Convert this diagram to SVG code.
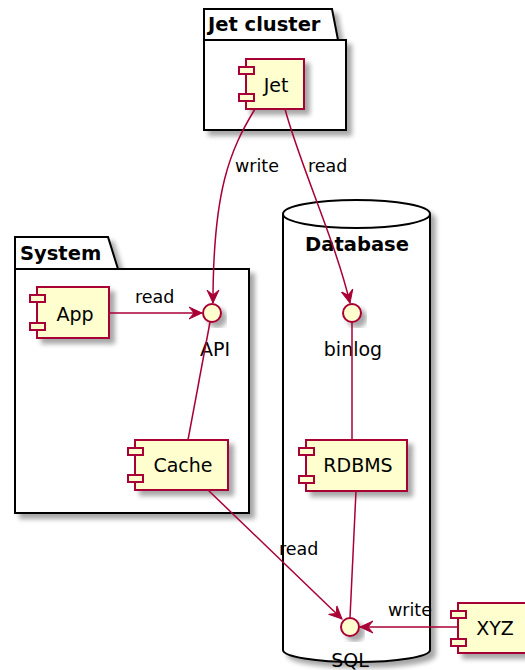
<svg xmlns="http://www.w3.org/2000/svg" width="525" height="670" viewBox="0 0 525 670">
<style>
.pkg{fill:#FFFFFF;stroke:#000000;stroke-width:2}
.comp{fill:#FEFECE;stroke:#A80036;stroke-width:2}
.ptitle{font-family:"DejaVu Sans",sans-serif;font-size:19.5px;font-weight:bold;fill:#000}
.lbl{font-family:"DejaVu Sans",sans-serif;font-size:19px;fill:#000}
.elbl{font-family:"DejaVu Sans",sans-serif;font-size:17.5px;fill:#000}
.edge{fill:none;stroke:#A80036;stroke-width:1.5}
</style>
<defs>
<filter id="sh" x="-20%" y="-20%" width="150%" height="150%">
<feGaussianBlur in="SourceAlpha" stdDeviation="2.5"/>
<feOffset dx="5" dy="5" result="b"/>
<feComponentTransfer><feFuncA type="linear" slope="0.35"/></feComponentTransfer>
<feMerge><feMergeNode/><feMergeNode in="SourceGraphic"/></feMerge>
</filter>
<marker id="arr" viewBox="0 0 14 14" refX="13" refY="7" markerWidth="14" markerHeight="14" markerUnits="userSpaceOnUse" orient="auto">
<path d="M0,1 L13,7 L0,13 L5,7 Z" fill="#A80036" stroke="#A80036" stroke-width="1"/>
</marker>
</defs>
<rect width="525" height="670" fill="#FFFFFF"/>

<g id="jet-cluster">
<path class="pkg" filter="url(#sh)" d="M204,9 L332,9 L338,40 L346,40 L346,130 L204,130 Z"/>
<line x1="204" y1="40" x2="338" y2="40" stroke="#000" stroke-width="2"/>
<text class="ptitle" x="208" y="31">Jet cluster</text>
</g>

<g id="system">
<path class="pkg" filter="url(#sh)" d="M15,237 L108,237 L118,269 L249,269 L249,513 L15,513 Z"/>
<line x1="15" y1="269" x2="118" y2="269" stroke="#000" stroke-width="2"/>
<text class="ptitle" x="20" y="260">System</text>
</g>

<g id="database">
<path class="pkg" filter="url(#sh)" d="M283,214 A73.5,14 0 0 1 430,214 L430,650 A73.5,12 0 0 1 283,650 Z"/>
<path d="M283,214 A73.5,14 0 0 0 430,214" fill="none" stroke="#000" stroke-width="2"/>
<text class="ptitle" x="357" y="251" text-anchor="middle">Database</text>
</g>

<g id="jet">
<rect class="comp" filter="url(#sh)" x="246" y="59" width="58" height="50"/>
<rect class="comp" x="239" y="67" width="15" height="7"/>
<rect class="comp" x="239" y="94" width="15" height="7"/>
<text class="lbl" x="276" y="92" text-anchor="middle">Jet</text>
</g>

<g id="app">
<rect class="comp" filter="url(#sh)" x="37" y="287" width="72" height="51"/>
<rect class="comp" x="30" y="295" width="15" height="7"/>
<rect class="comp" x="30" y="323" width="15" height="7"/>
<text class="lbl" x="75" y="321" text-anchor="middle">App</text>
</g>

<g id="api">
<circle class="comp" filter="url(#sh)" cx="212" cy="313" r="9"/>
<text class="lbl" x="215" y="356" text-anchor="middle">API</text>
</g>

<g id="cache">
<rect class="comp" filter="url(#sh)" x="135" y="440" width="93" height="50"/>
<rect class="comp" x="128" y="448" width="15" height="7"/>
<rect class="comp" x="128" y="475" width="15" height="7"/>
<text class="lbl" x="183" y="472" text-anchor="middle">Cache</text>
</g>

<g id="binlog">
<circle class="comp" filter="url(#sh)" cx="352" cy="313" r="9"/>
<text class="lbl" x="353" y="356" text-anchor="middle">binlog</text>
</g>

<g id="rdbms">
<rect class="comp" filter="url(#sh)" x="306" y="440" width="101" height="51"/>
<rect class="comp" x="299" y="448" width="15" height="7"/>
<rect class="comp" x="299" y="476" width="15" height="7"/>
<text class="lbl" x="358" y="472" text-anchor="middle">RDBMS</text>
</g>

<g id="sql">
<circle class="comp" filter="url(#sh)" cx="350" cy="627" r="9"/>
<text class="lbl" x="350" y="667" text-anchor="middle">SQL</text>
</g>

<g id="xyz">
<rect class="comp" filter="url(#sh)" x="458" y="603" width="75" height="50"/>
<rect class="comp" x="451" y="611" width="15" height="7"/>
<rect class="comp" x="451" y="639" width="15" height="7"/>
<text class="lbl" x="495" y="635" text-anchor="middle">XYZ</text>
</g>

<g id="connectors">
<path class="edge" d="M255,109 C230,150 213,190 213,303" marker-end="url(#arr)"/>
<text class="elbl" x="235" y="172">write</text>
<path class="edge" d="M285,109 C300,165 335,240 350,303" marker-end="url(#arr)"/>
<text class="elbl" x="308" y="172">read</text>
<path class="edge" d="M109,313 L202,313" marker-end="url(#arr)"/>
<text class="elbl" x="135" y="303">read</text>
<path class="edge" d="M210,322 L188,440"/>
<path class="edge" d="M352,322 L352,440"/>
<path class="edge" d="M356,491 L350,618"/>
<path class="edge" d="M208,490 L342,619" marker-end="url(#arr)"/>
<text class="elbl" x="279" y="555">read</text>
<path class="edge" d="M458,627 L360,627" marker-end="url(#arr)"/>
<text class="elbl" x="388" y="616">write</text>
</g>
</svg>
